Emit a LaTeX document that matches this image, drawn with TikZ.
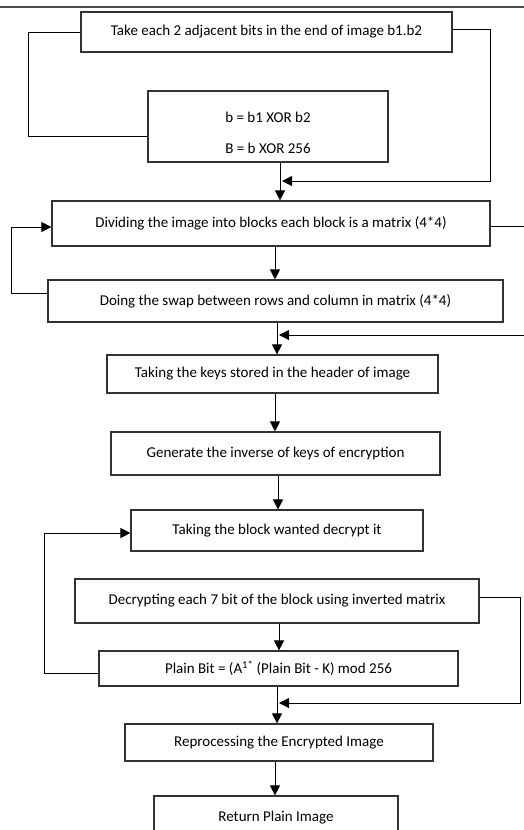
\documentclass[tikz,border=0pt]{standalone}
\usepackage{fontspec}
\setmainfont{Carlito}
\usetikzlibrary{arrows.meta,positioning}

\begin{document}
\begin{tikzpicture}[x=1pt,y=-1pt,
  stepbox/.style={draw=black!80, line width=1.2pt, inner sep=0pt, font=\fontsize{15}{17}\selectfont},
  flow/.style={draw=black, line width=1pt},
  arr/.style={flow, -{Triangle[length=10pt,width=10pt]}}]

% page frame
\clip (0,0) rectangle (524,830);
\fill[white] (0,0) rectangle (524,830);

% top rule
\draw[black!70, line width=1.5pt] (0,7) -- (524,7);

% extraction of the bits
\node[stepbox, minimum width=371pt, minimum height=40pt] (take) at (266.5,32) {Take each 2 adjacent bits in the end of image b1.b2};
\node[stepbox, minimum width=240pt, minimum height=71pt, align=center] (xor) at (268,126.5) {\rule{0pt}{24pt}b = b1 XOR b2\\[14pt]B = b XOR 256};

% blocks and swap
\node[stepbox, minimum width=438pt, minimum height=45pt] (divide) at (271,223.5) {Dividing the image into blocks each block is a matrix (4*4)};
\node[stepbox, minimum width=455pt, minimum height=42pt] (swap) at (275.5,301) {Doing the swap between rows and column in matrix (4*4)};

% keys
\node[stepbox, minimum width=331pt, minimum height=38pt] (keys) at (272.5,374) {Taking the keys stored in the header of image};
\node[stepbox, minimum width=329pt, minimum height=43pt] (inverse) at (275.5,453.5) {Generate the inverse of keys of encryption};

% decryption of each block
\node[stepbox, minimum width=292pt, minimum height=41pt] (block) at (277,530.5) {Taking the block wanted decrypt it};
\node[stepbox, minimum width=404pt, minimum height=44pt] (decrypt) at (277,601) {Decrypting each 7 bit of the block using inverted matrix};
\node[stepbox, minimum width=359pt, minimum height=35pt] (plain) at (278.5,668.5) {Plain Bit = (A\textsuperscript{1*} (Plain Bit - K) mod 256};

% output
\node[stepbox, minimum width=308pt, minimum height=37pt] (repro) at (279,742.5) {Reprocessing the Encrypted Image};
\node[stepbox, minimum width=244pt, minimum height=44pt] (return) at (276,818) {\raisebox{4pt}{Return Plain Image}};

% free ends
\coordinate (join1) at (282,181);
\coordinate (join2) at (279,335);
\coordinate (join3) at (279,703);
\coordinate (edgeA) at (524,226);
\coordinate (edgeB) at (524,335);

% main flow
\draw[arr] ([xshift=12pt]xor.south) -- ([xshift=12pt]xor.south |- divide.north);
\draw[arr] ([xshift=4pt]divide.south) -- ([xshift=4pt]divide.south |- swap.north);
\draw[arr] ([xshift=1.5pt]swap.south) -- ([xshift=1.5pt]swap.south |- keys.north);
\draw[arr] ([xshift=2.5pt]keys.south) -- ([xshift=2.5pt]keys.south |- inverse.north);
\draw[arr] ([xshift=2.5pt]inverse.south) -- ([xshift=2.5pt]inverse.south |- block.north);
\draw[arr] ([xshift=2pt]decrypt.south) -- ([xshift=2pt]decrypt.south |- plain.north);
\draw[arr] ([xshift=-1.5pt]plain.south) -- ([xshift=-1.5pt]plain.south |- repro.north);
\draw[arr] ([xshift=-4pt]repro.south) -- ([xshift=-4pt]repro.south |- return.north);

% loops
\draw[flow] (take.west) -- ++(-52,0) |- ([yshift=-9.5pt]xor.west);
\draw[arr] ([yshift=3pt]take.east) -- ++(38,0) |- (join1);
\draw[flow] ([yshift=-2.5pt]divide.east) -- (edgeA);
\draw[arr] ([yshift=8pt]swap.west) -- ++(-36,0) |- ([yshift=-3.5pt]divide.west);
\draw[arr] (edgeB) -- (join2);
\draw[arr] ([yshift=-4.5pt]plain.west) -- ++(-54,0) |- ([yshift=-2.5pt]block.west);
\draw[arr] ([yshift=4pt]decrypt.east) -- ++(41,0) |- (join3);

\end{tikzpicture}
\end{document}
